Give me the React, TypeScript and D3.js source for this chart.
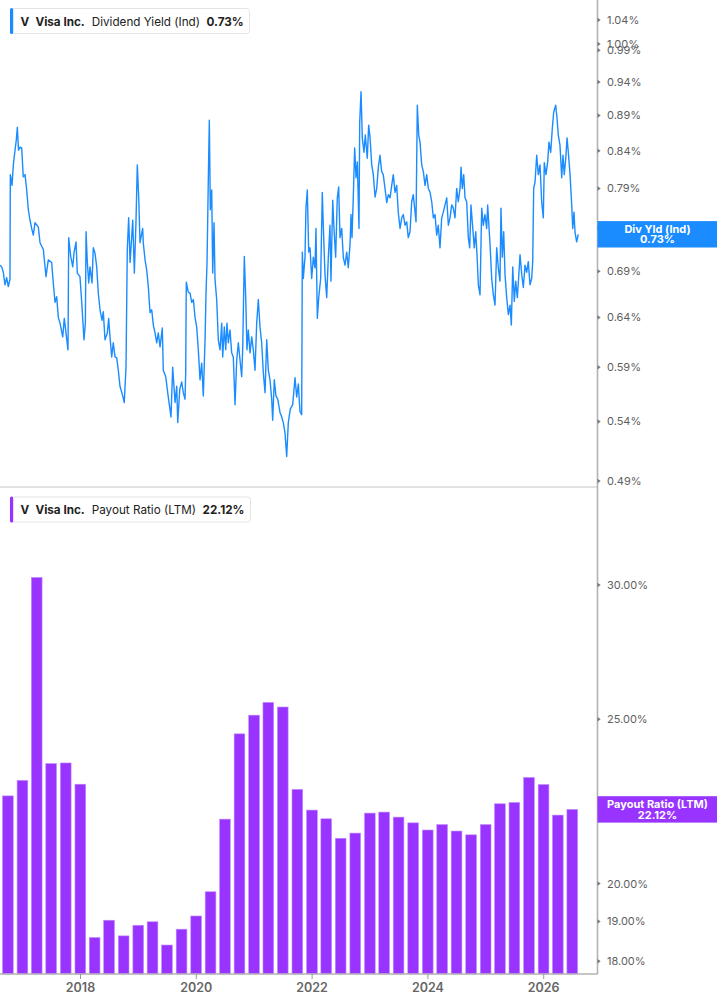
import * as d3 from "d3";
import { useEffect, useRef } from "react";

const WIDTH = 717;
const HEIGHT = 1005;
const PLOT_RIGHT = 597.5;
const SPLIT_Y = 487;
const AXIS_Y = 974;

const BLUE = "#1a8cff";
const PURPLE = "#9933ff";

// Dividend Yield (Ind), in %, as [decimal year, value]
const YIELD_2016_17: [number, number][] = [
  [2016.61, 0.697], [2016.639, 0.695], [2016.667, 0.689], [2016.696, 0.675], [2016.725, 0.683],
  [2016.753, 0.673], [2016.782, 0.681], [2016.788, 0.808], [2016.817, 0.794], [2016.84, 0.821],
  [2016.869, 0.841], [2016.891, 0.855], [2016.909, 0.873], [2016.929, 0.841], [2016.955, 0.845],
  [2016.984, 0.844], [2017.012, 0.805], [2017.042, 0.808], [2017.071, 0.788], [2017.099, 0.763],
  [2017.128, 0.75], [2017.157, 0.74], [2017.185, 0.732], [2017.214, 0.747], [2017.271, 0.742],
  [2017.301, 0.723], [2017.358, 0.715], [2017.404, 0.684], [2017.444, 0.703], [2017.502, 0.7],
  [2017.53, 0.677], [2017.56, 0.656], [2017.589, 0.662], [2017.617, 0.64], [2017.646, 0.634],
  [2017.693, 0.62], [2017.72, 0.639], [2017.749, 0.624], [2017.784, 0.607], [2017.796, 0.729],
  [2017.831, 0.707], [2017.866, 0.695], [2017.888, 0.711], [2017.923, 0.724], [2017.945, 0.688],
  [2017.991, 0.684],
];

const YIELD_2018_19: [number, number][] = [
  [2018.021, 0.656], [2018.06, 0.617], [2018.084, 0.634], [2018.096, 0.736], [2018.118, 0.7],
  [2018.142, 0.677], [2018.164, 0.695], [2018.199, 0.677], [2018.221, 0.717], [2018.25, 0.711],
  [2018.28, 0.695], [2018.307, 0.666], [2018.337, 0.648], [2018.372, 0.637], [2018.394, 0.646],
  [2018.423, 0.617], [2018.463, 0.624], [2018.487, 0.639], [2018.509, 0.62], [2018.539, 0.6],
  [2018.566, 0.614], [2018.596, 0.6], [2018.626, 0.599], [2018.653, 0.587], [2018.682, 0.572],
  [2018.729, 0.563], [2018.756, 0.557], [2018.786, 0.59], [2018.808, 0.715], [2018.832, 0.753],
  [2018.856, 0.7], [2018.902, 0.75], [2018.93, 0.688], [2018.959, 0.75], [2018.981, 0.821],
  [2019.005, 0.779], [2019.028, 0.723], [2019.074, 0.74], [2019.084, 0.723], [2019.115, 0.703],
  [2019.144, 0.691], [2019.171, 0.673], [2019.201, 0.645], [2019.23, 0.648], [2019.258, 0.632],
  [2019.287, 0.624], [2019.316, 0.614], [2019.343, 0.624], [2019.374, 0.61], [2019.413, 0.629],
  [2019.43, 0.587], [2019.472, 0.581], [2019.506, 0.566], [2019.534, 0.555], [2019.563, 0.544],
  [2019.592, 0.59], [2019.633, 0.557], [2019.662, 0.572], [2019.679, 0.539], [2019.714, 0.569],
  [2019.748, 0.576], [2019.775, 0.566], [2019.805, 0.56], [2019.817, 0.585], [2019.827, 0.678],
  [2019.861, 0.667], [2019.892, 0.666], [2019.921, 0.656], [2019.949, 0.659], [2019.978, 0.64],
];

const YIELD_2020_21: [number, number][] = [
  [2020.007, 0.63], [2020.035, 0.607], [2020.064, 0.578], [2020.093, 0.594], [2020.121, 0.563],
  [2020.151, 0.617], [2020.168, 0.666], [2020.185, 0.7], [2020.197, 0.75], [2020.208, 0.805],
  [2020.225, 0.883], [2020.242, 0.763], [2020.266, 0.788], [2020.283, 0.688], [2020.306, 0.747],
  [2020.323, 0.681], [2020.352, 0.659], [2020.38, 0.617], [2020.41, 0.607], [2020.439, 0.634],
  [2020.456, 0.6], [2020.484, 0.63], [2020.508, 0.607], [2020.53, 0.634], [2020.553, 0.614],
  [2020.582, 0.627], [2020.611, 0.604], [2020.639, 0.6], [2020.669, 0.555], [2020.698, 0.597],
  [2020.726, 0.614], [2020.755, 0.597], [2020.784, 0.581], [2020.801, 0.607], [2020.829, 0.707],
  [2020.853, 0.662], [2020.875, 0.607], [2020.898, 0.627], [2020.928, 0.604], [2020.957, 0.62],
  [2020.985, 0.607], [2021.014, 0.587], [2021.043, 0.634], [2021.071, 0.659], [2021.1, 0.63],
  [2021.129, 0.614], [2021.157, 0.585], [2021.187, 0.566], [2021.216, 0.617], [2021.244, 0.587],
  [2021.273, 0.578], [2021.302, 0.56], [2021.319, 0.541], [2021.347, 0.578], [2021.376, 0.563],
  [2021.406, 0.56], [2021.446, 0.548], [2021.475, 0.544], [2021.503, 0.539], [2021.532, 0.53],
  [2021.561, 0.51], [2021.589, 0.539], [2021.623, 0.551], [2021.665, 0.555], [2021.705, 0.58],
  [2021.734, 0.562], [2021.762, 0.574], [2021.791, 0.549], [2021.82, 0.546], [2021.831, 0.712],
  [2021.848, 0.682], [2021.877, 0.706], [2021.894, 0.765], [2021.917, 0.788], [2021.941, 0.712],
  [2021.964, 0.717], [2021.993, 0.682],
];

const YIELD_2022_23: [number, number][] = [
  [2022.021, 0.706], [2022.05, 0.694], [2022.067, 0.74], [2022.09, 0.639], [2022.114, 0.661],
  [2022.148, 0.682], [2022.176, 0.785], [2022.193, 0.744], [2022.223, 0.686], [2022.252, 0.661],
  [2022.28, 0.706], [2022.309, 0.744], [2022.326, 0.679], [2022.356, 0.775], [2022.378, 0.74],
  [2022.407, 0.706], [2022.435, 0.778], [2022.459, 0.792], [2022.482, 0.729], [2022.511, 0.74],
  [2022.539, 0.706], [2022.568, 0.697], [2022.598, 0.712], [2022.625, 0.694], [2022.655, 0.721],
  [2022.672, 0.757], [2022.689, 0.729], [2022.711, 0.778], [2022.735, 0.844], [2022.759, 0.804],
  [2022.781, 0.825], [2022.81, 0.74], [2022.822, 0.88], [2022.845, 0.925], [2022.867, 0.858],
  [2022.896, 0.838], [2022.919, 0.862], [2022.953, 0.83], [2022.977, 0.876], [2023.001, 0.858],
  [2023.03, 0.821], [2023.057, 0.808], [2023.087, 0.779], [2023.116, 0.79], [2023.143, 0.817],
  [2023.172, 0.834], [2023.202, 0.812], [2023.229, 0.808], [2023.259, 0.79], [2023.289, 0.772],
  [2023.316, 0.782], [2023.346, 0.778], [2023.375, 0.794], [2023.402, 0.808], [2023.432, 0.785],
  [2023.461, 0.794], [2023.488, 0.76], [2023.519, 0.74], [2023.548, 0.753], [2023.575, 0.757],
  [2023.605, 0.744], [2023.634, 0.748], [2023.661, 0.729], [2023.691, 0.736], [2023.72, 0.773],
  [2023.747, 0.782], [2023.778, 0.76], [2023.795, 0.748], [2023.817, 0.905], [2023.841, 0.862],
  [2023.864, 0.852], [2023.893, 0.821], [2023.921, 0.812], [2023.95, 0.794], [2023.979, 0.808],
];

const YIELD_2024_26: [number, number][] = [
  [2024.007, 0.79], [2024.037, 0.785], [2024.066, 0.773], [2024.094, 0.753], [2024.123, 0.757],
  [2024.152, 0.732], [2024.179, 0.744], [2024.209, 0.717], [2024.238, 0.753], [2024.266, 0.76],
  [2024.296, 0.769], [2024.325, 0.778], [2024.353, 0.744], [2024.382, 0.753], [2024.411, 0.769],
  [2024.439, 0.765], [2024.468, 0.753], [2024.497, 0.79], [2024.525, 0.773], [2024.555, 0.79],
  [2024.572, 0.818], [2024.594, 0.79], [2024.618, 0.808], [2024.641, 0.778], [2024.67, 0.773],
  [2024.698, 0.729], [2024.722, 0.717], [2024.744, 0.769], [2024.766, 0.748], [2024.801, 0.717],
  [2024.826, 0.736], [2024.848, 0.709], [2024.871, 0.675], [2024.9, 0.664], [2024.929, 0.765],
  [2024.957, 0.744], [2024.986, 0.757], [2025.015, 0.74], [2025.032, 0.769], [2025.073, 0.721],
  [2025.102, 0.682], [2025.13, 0.664], [2025.159, 0.653], [2025.188, 0.717], [2025.216, 0.694],
  [2025.245, 0.679], [2025.262, 0.765], [2025.285, 0.706], [2025.309, 0.736], [2025.332, 0.686],
  [2025.361, 0.661], [2025.389, 0.643], [2025.418, 0.653], [2025.441, 0.632], [2025.465, 0.695],
  [2025.492, 0.657], [2025.516, 0.679], [2025.544, 0.661], [2025.573, 0.689], [2025.591, 0.709],
  [2025.621, 0.686], [2025.648, 0.672], [2025.677, 0.697], [2025.706, 0.689], [2025.734, 0.701],
  [2025.763, 0.675], [2025.792, 0.682], [2025.81, 0.701], [2025.827, 0.79], [2025.85, 0.798],
  [2025.879, 0.834], [2025.907, 0.808], [2025.936, 0.821], [2025.965, 0.773], [2025.993, 0.753],
  [2026.01, 0.824], [2026.039, 0.808], [2026.069, 0.825], [2026.091, 0.852], [2026.121, 0.838],
  [2026.149, 0.872], [2026.173, 0.895], [2026.207, 0.905], [2026.23, 0.886], [2026.252, 0.862],
  [2026.281, 0.848], [2026.311, 0.804], [2026.333, 0.834], [2026.355, 0.808], [2026.381, 0.83],
  [2026.403, 0.858], [2026.425, 0.838], [2026.455, 0.808], [2026.484, 0.769], [2026.501, 0.74],
  [2026.523, 0.76], [2026.54, 0.736], [2026.569, 0.724], [2026.597, 0.733],
];

// Payout Ratio (LTM), in %, one bar per fiscal quarter end
const PAYOUT_QUARTERS = [
  "2016-09-30", "2016-12-31", "2017-03-31", "2017-06-30", "2017-09-30", "2017-12-31",
  "2018-03-31", "2018-06-30", "2018-09-30", "2018-12-31", "2019-03-31", "2019-06-30",
  "2019-09-30", "2019-12-31", "2020-03-31", "2020-06-30", "2020-09-30", "2020-12-31",
  "2021-03-31", "2021-06-30", "2021-09-30", "2021-12-31", "2022-03-31", "2022-06-30",
  "2022-09-30", "2022-12-31", "2023-03-31", "2023-06-30", "2023-09-30", "2023-12-31",
  "2024-03-31", "2024-06-30", "2024-09-30", "2024-12-31", "2025-03-31", "2025-06-30",
  "2025-09-30", "2025-12-31", "2026-03-31", "2026-06-30",
];
const PAYOUT_RATIO = [
  22.53, 23.01, 30.31, 23.54, 23.56, 22.89,
  18.59, 19.03, 18.63, 18.9, 18.99, 18.4,
  18.8, 19.14, 19.78, 21.83, 24.51, 25.14,
  25.58, 25.42, 22.73, 22.1, 21.84, 21.27,
  21.42, 22.01, 22.04, 21.89, 21.72, 21.51,
  21.67, 21.48, 21.37, 21.67, 22.29, 22.33,
  23.1, 22.88, 21.95, 22.12,
];

const YIELD_TICKS = [0.49, 0.54, 0.59, 0.64, 0.69, 0.74, 0.79, 0.84, 0.89, 0.94, 0.99, 1.0, 1.04];
const PAYOUT_TICKS = [18, 19, 20, 25, 30];
const YEAR_TICKS = [2018, 2020, 2022, 2024, 2026];

const FONT = "Inter, 'Noto Sans', sans-serif";

function toYear(s: string) {
  const d = new Date(s + "T00:00:00Z");
  const y = d.getUTCFullYear();
  const start = Date.UTC(y, 0, 1);
  const end = Date.UTC(y + 1, 0, 1);
  return y + (d.getTime() - start) / (end - start);
}

export default function App() {
  const svgRef = useRef<SVGSVGElement>(null);

  useEffect(() => {
    if (!svgRef.current) return;
    const svg = d3.select(svgRef.current);
    svg.selectAll("*").remove();

    const yieldData = [
      ...YIELD_2016_17,
      ...YIELD_2018_19,
      ...YIELD_2020_21,
      ...YIELD_2022_23,
      ...YIELD_2024_26,
    ];

    const x = d3.scaleLinear().domain([2016.6097, 2026.929]).range([0, PLOT_RIGHT]);
    const yTop = d3.scaleLog().domain([0.4852, 1.0746]).range([SPLIT_Y, 0]);
    const yBot = d3.scaleLog().domain([17.69, 34.27]).range([AXIS_Y, SPLIT_Y]);

    svg.append("rect").attr("width", WIDTH).attr("height", HEIGHT).attr("fill", "#fff");

    // pane separator
    svg
      .append("line")
      .attr("x1", 0)
      .attr("x2", PLOT_RIGHT)
      .attr("y1", SPLIT_Y)
      .attr("y2", SPLIT_Y)
      .attr("stroke", "#e2e2e2")
      .attr("stroke-width", 2);

    // yield line
    const line = d3
      .line<[number, number]>()
      .x((d) => x(d[0]))
      .y((d) => yTop(d[1]));
    svg
      .append("path")
      .datum(yieldData)
      .attr("d", line)
      .attr("fill", "none")
      .attr("stroke", BLUE)
      .attr("stroke-width", 1.4)
      .attr("stroke-linejoin", "round");

    // payout bars
    const bars = PAYOUT_QUARTERS.map((q, i) => ({ t: toYear(q), v: PAYOUT_RATIO[i] }));
    const bw = (x(0.25) - x(0)) * 0.74;
    svg
      .append("g")
      .selectAll("rect")
      .data(bars)
      .join("rect")
      .attr("x", (d) => x(d.t) - bw / 2)
      .attr("y", (d) => yBot(d.v))
      .attr("width", bw)
      .attr("height", (d) => AXIS_Y - yBot(d.v))
      .attr("fill", PURPLE)
      .attr("stroke", "#c08cff")
      .attr("stroke-width", 0.6);

    // right axis
    const axisColor = "#b3b3b3";
    svg
      .append("line")
      .attr("x1", PLOT_RIGHT)
      .attr("x2", PLOT_RIGHT)
      .attr("y1", 0)
      .attr("y2", AXIS_Y)
      .attr("stroke", axisColor)
      .attr("stroke-width", 1.6);

    const drawTicks = (
      ticks: number[],
      scale: d3.ScaleLogarithmic<number, number>,
      fmt: (v: number) => string,
    ) => {
      const g = svg.append("g");
      ticks.forEach((v) => {
        const y = scale(v);
        g.append("path")
          .attr("d", `M${PLOT_RIGHT},${y - 2.2}L${PLOT_RIGHT + 3.2},${y}L${PLOT_RIGHT},${y + 2.2}Z`)
          .attr("fill", "#777");
        g.append("text")
          .attr("x", PLOT_RIGHT + 9.5)
          .attr("y", y)
          .attr("dy", "0.36em")
          .attr("font-family", FONT)
          .attr("font-size", 11)
          .attr("fill", "#5f5f5f")
          .text(fmt(v));
      });
    };
    drawTicks(YIELD_TICKS, yTop, (v) => `${v.toFixed(2)}%`);
    drawTicks(PAYOUT_TICKS, yBot, (v) => `${v.toFixed(2)}%`);

    // x axis
    svg
      .append("line")
      .attr("x1", 0)
      .attr("x2", PLOT_RIGHT)
      .attr("y1", AXIS_Y)
      .attr("y2", AXIS_Y)
      .attr("stroke", axisColor)
      .attr("stroke-width", 1.6);
    const xg = svg.append("g");
    YEAR_TICKS.forEach((yr) => {
      xg.append("line")
        .attr("x1", x(yr))
        .attr("x2", x(yr))
        .attr("y1", AXIS_Y)
        .attr("y2", AXIS_Y + 5)
        .attr("stroke", "#999");
      xg.append("text")
        .attr("x", x(yr))
        .attr("y", AXIS_Y + 18)
        .attr("text-anchor", "middle")
        .attr("font-family", FONT)
        .attr("font-size", 12.5)
        .attr("font-weight", 600)
        .attr("fill", "#666")
        .text(String(yr));
    });

    // last-value labels on the right axis
    const lastBadge = (yc: number, color: string, title: string, value: string) => {
      const g = svg.append("g");
      g.append("rect")
        .attr("x", PLOT_RIGHT)
        .attr("y", yc - 13.2)
        .attr("width", WIDTH - PLOT_RIGHT)
        .attr("height", 26.4)
        .attr("fill", color);
      [title, value].forEach((t, i) => {
        g.append("text")
          .attr("x", 657.5)
          .attr("y", yc - 1.8 + i * 10.9)
          .attr("text-anchor", "middle")
          .attr("font-family", FONT)
          .attr("font-size", 11)
          .attr("font-weight", 700)
          .attr("fill", "#fff")
          .text(t);
      });
    };
    const lastYield = yieldData[yieldData.length - 1][1];
    const lastPayout = PAYOUT_RATIO[PAYOUT_RATIO.length - 1];
    lastBadge(yTop(lastYield), BLUE, "Div Yld (Ind)", `${lastYield.toFixed(2)}%`);
    lastBadge(yBot(lastPayout), PURPLE, "Payout Ratio (LTM)", `${lastPayout.toFixed(2)}%`);

    // legends
    const legend = (top: number, w: number, color: string, metric: string, value: string) => {
      const g = svg.append("g");
      g.append("rect")
        .attr("x", 10.5)
        .attr("y", top + 0.5)
        .attr("width", w)
        .attr("height", 25)
        .attr("rx", 3)
        .attr("fill", "#fff")
        .attr("stroke", "#e4e4e4");
      g.append("rect")
        .attr("x", 10)
        .attr("y", top)
        .attr("width", 3.2)
        .attr("height", 26)
        .attr("rx", 1.5)
        .attr("fill", color);
      const text = g
        .append("text")
        .attr("x", 20.5)
        .attr("y", top + 17.6)
        .attr("font-family", FONT)
        .attr("font-size", 11.7)
        .attr("fill", "#222");
      const parts: [string, number, number][] = [
        ["V", 0, 700],
        ["Visa Inc.", 6, 700],
        [metric, 7, 400],
        [value, 6.5, 700],
      ];
      parts.forEach(([t, dx, wgt]) => {
        text.append("tspan").attr("dx", dx).attr("font-weight", wgt).text(t);
      });
    };
    legend(8, 239, BLUE, "Dividend Yield (Ind)", `${lastYield.toFixed(2)}%`);
    legend(496.5, 240, PURPLE, "Payout Ratio (LTM)", `${lastPayout.toFixed(2)}%`);
  }, []);

  return (
    <div style={{ position: "absolute", left: 0, top: 0, width: WIDTH, height: HEIGHT }}>
      <svg ref={svgRef} width={WIDTH} height={HEIGHT} style={{ display: "block" }} />
    </div>
  );
}
